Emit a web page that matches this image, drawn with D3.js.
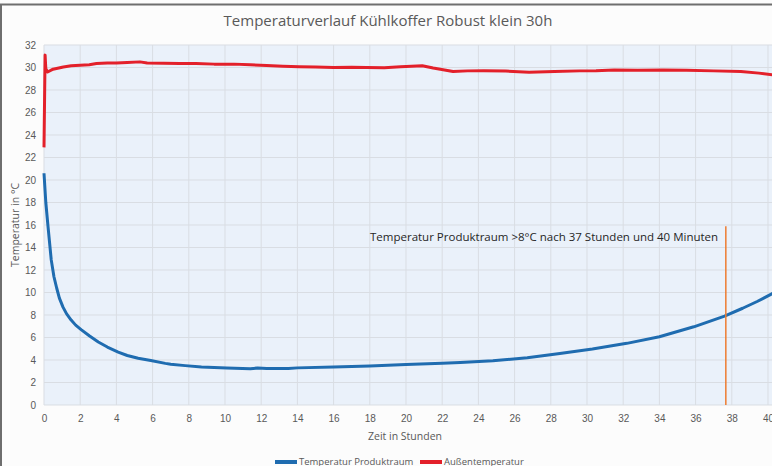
<!DOCTYPE html>
<meta charset="utf-8">
<head>
  <title>Temperaturverlauf Kühlkoffer</title>
  <style>
    body { margin: 0; background: #fcfcfc; }
    svg { display: block; font-family: 'Open Sans', sans-serif; }
    .grid line { stroke: #d9dde3; stroke-width: 1; }
    .axis text { fill: #595959; font-size: 10px; }
    .axis path, .axis line { display: none; }
  </style>
</head>
<body>
<svg width="772" height="466"></svg>
<script src="https://cdn.jsdelivr.net/npm/d3@7"></script>
<script>

// Temperatur Produktraum (Stunden / °C)
var hoursProdukt = [0, 0.1, 0.22, 0.4, 0.55, 0.7, 0.85, 1.05, 1.25, 1.5, 1.75, 2.05, 2.5, 3.0, 3.5, 4.1, 4.6, 5.2,
  5.9, 6.7, 7.0, 7.8, 8.7, 10.1, 11.4, 11.8, 12.3, 13.5, 14.0, 16.0, 18.0, 20.0, 22.0, 23.0, 24.8, 26.7,
  28.5, 30.3, 32.2, 34.0, 35.9, 37.6, 38.6, 39.4, 40.3];
var tempProdukt = [20.6, 18.0, 15.9, 12.9, 11.4, 10.4, 9.5, 8.7, 8.1, 7.55, 7.1, 6.7, 6.15, 5.6, 5.15, 4.7, 4.4, 4.15,
  3.95, 3.7, 3.62, 3.5, 3.38, 3.28, 3.23, 3.28, 3.24, 3.24, 3.3, 3.37, 3.47, 3.6, 3.72, 3.78, 3.94, 4.2,
  4.58, 4.98, 5.48, 6.07, 6.95, 7.9, 8.6, 9.2, 9.95];

// Außentemperatur (Stunden / °C)
var hoursAussen = [0, 0.03, 0.06, 0.1, 0.2, 0.5, 1.07, 1.5, 2, 2.5, 2.9, 3.5, 4, 4.6, 5.3, 5.7, 6.6, 7.5, 8.4,
  9.4, 10.5, 11.4, 12.3, 13.2, 14.1, 15.0, 16, 17, 17.8, 18.8, 19.7, 20.9, 21.5, 22.6, 23.4, 24.3, 25.5,
  26.8, 28.2, 29.6, 30.5, 31.5, 32.8, 34.2, 35.5, 37, 38.5, 39.5, 40.3];
var tempAussen = [22.9, 27.0, 31.1, 29.9, 29.6, 29.85, 30.05, 30.15, 30.2, 30.25, 30.35, 30.4, 30.4, 30.45, 30.5, 30.4,
  30.37, 30.35, 30.35, 30.3, 30.3, 30.25, 30.17, 30.12, 30.07, 30.05, 30.0, 30.02, 30.0, 29.98, 30.07, 30.15, 29.95,
  29.65, 29.7, 29.72, 29.68, 29.58, 29.65, 29.7, 29.72, 29.78, 29.75, 29.78, 29.75, 29.7, 29.65, 29.5, 29.33];

var xTicks = d3.range(0, 41, 2);
var yTicks = d3.range(0, 33, 2);
var markerHour = 37.67; // 37 Stunden und 40 Minuten
var markerTop = 15.9;

var svg = d3.select("svg");

// rahmen
svg.append("path")
    .attr("d", "M1,466 V4.5 H772")
    .attr("fill", "none")
    .attr("stroke", "#6e6e6e")
    .attr("stroke-width", 2);

var plotRight = 772;

var x = d3.scaleLinear().domain([0, 40]).range([44, 768]);
var y = d3.scaleLinear().domain([0, 32]).range([405, 45]);

svg.append("rect")
    .attr("x", x(0)).attr("y", y(32))
    .attr("width", plotRight - x(0)).attr("height", y(0) - y(32))
    .attr("fill", "#eaf1fa");

var grid = svg.append("g").attr("class", "grid");
grid.selectAll(".gx").data(xTicks).enter().append("line")
    .attr("x1", function(d) { return x(d); }).attr("x2", function(d) { return x(d); })
    .attr("y1", y(0)).attr("y2", y(32));
grid.selectAll(".gy").data(yTicks).enter().append("line")
    .attr("x1", x(0)).attr("x2", plotRight)
    .attr("y1", function(d) { return y(d); }).attr("y2", function(d) { return y(d); });

svg.append("g").attr("class", "axis")
    .attr("transform", "translate(0," + (y(0) + 4) + ")")
    .call(d3.axisBottom(x).tickValues(xTicks).tickSize(0).tickPadding(6));

svg.append("g").attr("class", "axis")
    .attr("transform", "translate(" + (x(0) - 4) + ",0)")
    .call(d3.axisLeft(y).tickValues(yTicks).tickSize(0).tickPadding(4));

var line = d3.line()
    .x(function(d) { return x(d[0]); })
    .y(function(d) { return y(d[1]); });

svg.append("path")
    .datum(d3.zip(hoursAussen, tempAussen))
    .attr("fill", "none")
    .attr("stroke", "#e3202a")
    .attr("stroke-width", 3)
    .attr("stroke-linejoin", "round")
    .attr("d", line);

svg.append("path")
    .datum(d3.zip(hoursProdukt, tempProdukt))
    .attr("fill", "none")
    .attr("stroke", "#1f6cb0")
    .attr("stroke-width", 3)
    .attr("stroke-linejoin", "round")
    .attr("d", line);

svg.append("line")
    .attr("x1", x(markerHour)).attr("x2", x(markerHour))
    .attr("y1", y(markerTop)).attr("y2", y(0))
    .attr("stroke", "#ed7d31")
    .attr("stroke-width", 1.5);

svg.append("text")
    .attr("x", 370).attr("y", 241)
    .attr("fill", "#262626")
    .style("font-size", "11.5px")
    .text("Temperatur Produktraum >8°C nach 37 Stunden und 40 Minuten");

svg.append("text")
    .attr("x", 388).attr("y", 26)
    .attr("text-anchor", "middle")
    .attr("fill", "#595959")
    .style("font-size", "15px")
    .text("Temperaturverlauf Kühlkoffer Robust klein 30h");

svg.append("text")
    .attr("x", 405).attr("y", 440)
    .attr("text-anchor", "middle")
    .attr("fill", "#595959")
    .style("font-size", "10.5px")
    .text("Zeit in Stunden");

svg.append("text")
    .attr("transform", "translate(19,225) rotate(-90)")
    .attr("text-anchor", "middle")
    .attr("fill", "#595959")
    .style("font-size", "10.5px")
    .text("Temperatur in °C");

// legende
var legend = [
  {name: "Temperatur Produktraum", color: "#1f6cb0", x: 275},
  {name: "Außentemperatur", color: "#e3202a", x: 420}
];
var lg = svg.selectAll(".lg").data(legend).enter().append("g")
    .attr("transform", function(d) { return "translate(" + d.x + ",0)"; });
lg.append("line")
    .attr("x1", 0).attr("x2", 22).attr("y1", 462).attr("y2", 462)
    .attr("stroke", function(d) { return d.color; })
    .attr("stroke-width", 4);
lg.append("text")
    .attr("x", 24).attr("y", 465)
    .attr("fill", "#595959")
    .style("font-size", "9.5px")
    .text(function(d) { return d.name; });

</script>
</body>
</html>
